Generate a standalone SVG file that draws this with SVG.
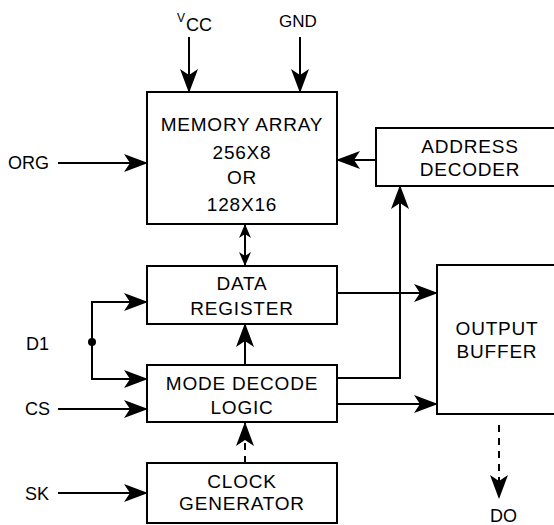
<svg xmlns="http://www.w3.org/2000/svg" width="554" height="525" viewBox="0 0 554 525">
<defs>
<style>
.box{fill:#fff;stroke:#000;stroke-width:2}
.ln{fill:none;stroke:#000;stroke-width:2}
.dash{stroke-dasharray:7 6}
.t{font-family:"Liberation Sans",Arial,sans-serif;font-size:19px;letter-spacing:0.8px;fill:#000;text-anchor:middle}
.lbl{font-family:"Liberation Sans",Arial,sans-serif;font-size:18px;fill:#000}
</style>
<marker id="ah" markerUnits="userSpaceOnUse" viewBox="0 0 24 18" refX="23" refY="9" markerWidth="24" markerHeight="18" orient="auto">
<path d="M0,0 L24,9 L0,18 L6,9 Z" fill="#000"/>
</marker>
<marker id="ahs" markerUnits="userSpaceOnUse" viewBox="0 0 14 12" refX="13" refY="6" markerWidth="14" markerHeight="12" orient="auto-start-reverse">
<path d="M0,0 L14,6 L0,12 L4,6 Z" fill="#000"/>
</marker>
</defs>
<rect width="554" height="525" fill="#fff"/>

<g id="memory-array">
<rect class="box" x="147" y="92" width="190" height="132"/>
<text class="t" x="242" y="131">MEMORY ARRAY</text>
<text class="t" x="242" y="159">256X8</text>
<text class="t" x="242" y="184">OR</text>
<text class="t" x="242" y="211">128X16</text>
</g>

<g id="address-decoder">
<rect class="box" x="376" y="128" width="190" height="58"/>
<text class="t" x="470" y="153">ADDRESS</text>
<text class="t" x="470" y="176">DECODER</text>
</g>

<g id="data-register">
<rect class="box" x="147" y="266" width="190" height="58"/>
<text class="t" x="242" y="290">DATA</text>
<text class="t" x="242" y="315">REGISTER</text>
</g>

<g id="output-buffer">
<rect class="box" x="437" y="265" width="130" height="149"/>
<text class="t" x="497" y="335">OUTPUT</text>
<text class="t" x="497" y="358">BUFFER</text>
</g>

<g id="mode-decode-logic">
<rect class="box" x="147" y="365" width="190" height="57"/>
<text class="t" x="242" y="390">MODE DECODE</text>
<text class="t" x="242" y="414">LOGIC</text>
</g>

<g id="clock-generator">
<rect class="box" x="147" y="463" width="190" height="60"/>
<text class="t" x="242" y="488">CLOCK</text>
<text class="t" x="242" y="510">GENERATOR</text>
</g>

<g id="labels">
<text class="lbl" x="177" y="22" style="font-size:12px">V</text>
<text class="lbl" x="186" y="31" style="font-size:18px">CC</text>
<text class="lbl" x="279" y="27" style="font-size:17px">GND</text>
<text class="lbl" x="8" y="169">ORG</text>
<text class="lbl" x="26" y="350">D1</text>
<text class="lbl" x="25" y="415">CS</text>
<text class="lbl" x="25" y="500">SK</text>
<text class="lbl" x="490" y="522">DO</text>
</g>

<g id="connectors">
<path class="ln" d="M189,37 V92" marker-end="url(#ah)"/>
<path class="ln" d="M300,37 V92" marker-end="url(#ah)"/>
<path class="ln" d="M58,163 H147" marker-end="url(#ah)"/>
<path class="ln" d="M376,160 H337" marker-end="url(#ah)"/>
<path class="ln" d="M245,225 V265" marker-start="url(#ahs)" marker-end="url(#ahs)"/>
<path class="ln" d="M336,378 H400 V186" marker-end="url(#ah)"/>
<path class="ln" d="M92,342 V302 H147" marker-end="url(#ah)"/>
<path class="ln" d="M92,342 V379 H147" marker-end="url(#ah)"/>
<circle cx="92" cy="342" r="4" fill="#000"/>
<path class="ln" d="M58,409 H147" marker-end="url(#ah)"/>
<path class="ln" d="M58,493 H147" marker-end="url(#ah)"/>
<path class="ln" d="M245,365 V324" marker-end="url(#ah)"/>
<path class="ln dash" d="M245,463 V423" marker-end="url(#ah)"/>
<path class="ln" d="M337,293 H437" marker-end="url(#ah)"/>
<path class="ln" d="M337,404 H437" marker-end="url(#ah)"/>
<path class="ln dash" d="M499,425 V498" marker-end="url(#ah)"/>
</g>
</svg>
